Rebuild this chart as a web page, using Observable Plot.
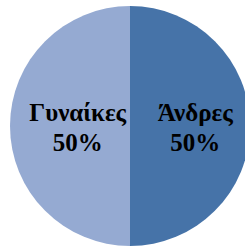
<!DOCTYPE html>
<html>
<head>
<meta charset="utf-8">
<script src="https://cdn.jsdelivr.net/npm/d3@7"></script>
<script src="https://cdn.jsdelivr.net/npm/@observablehq/plot@0.6"></script>
<style>
  html, body { margin: 0; padding: 0; background: #fff; }
  #chart svg { display: block; }
</style>
</head>
<body>
<div id="chart"></div>
<script>
const categories = ["Άνδρες", "Γυναίκες"];
const values = [50, 50];
const colors = ["#4673A8", "#95AAD2"];

const W = 245, H = 248;
const R = 120, CX = 130, CY = 126;

const arcs = d3.pie().sort(null).value(d => d.value)(
  categories.map((c, i) => ({category: c, value: values[i], color: colors[i]}))
);
const total = d3.sum(values);

const labels = arcs.map(a => {
  const mid = (a.startAngle + a.endAngle) / 2;
  return {
    x: 0.49 * Math.sin(mid),
    y: 0.49 * Math.cos(mid),
    text: `${a.data.category}\n${Math.round(100 * a.data.value / total)}%`
  };
});

function pieMark(index, scales) {
  const cx = scales.x(0), cy = scales.y(0);
  const r = scales.x(1) - scales.x(0);
  const g = d3.create("svg:g").attr("transform", `translate(${cx},${cy})`);
  g.selectAll("path")
    .data(arcs)
    .join("path")
    .attr("d", d3.arc().innerRadius(0).outerRadius(r))
    .attr("fill", d => d.data.color);
  return g.node();
}

const chart = Plot.plot({
  width: W,
  height: H,
  margin: 0,
  x: {domain: [-CX / R, (W - CX) / R], axis: null},
  y: {domain: [-(H - CY) / R, CY / R], axis: null},
  marks: [
    pieMark,
    Plot.text(labels, {
      x: "x",
      y: "y",
      text: "text",
      dx: 6,
      fontFamily: "Liberation Serif",
      fontWeight: "bold",
      fontSize: 25,
      lineHeight: 1.2,
      fill: "#000"
    })
  ]
});
document.getElementById("chart").append(chart);
</script>
</body>
</html>
